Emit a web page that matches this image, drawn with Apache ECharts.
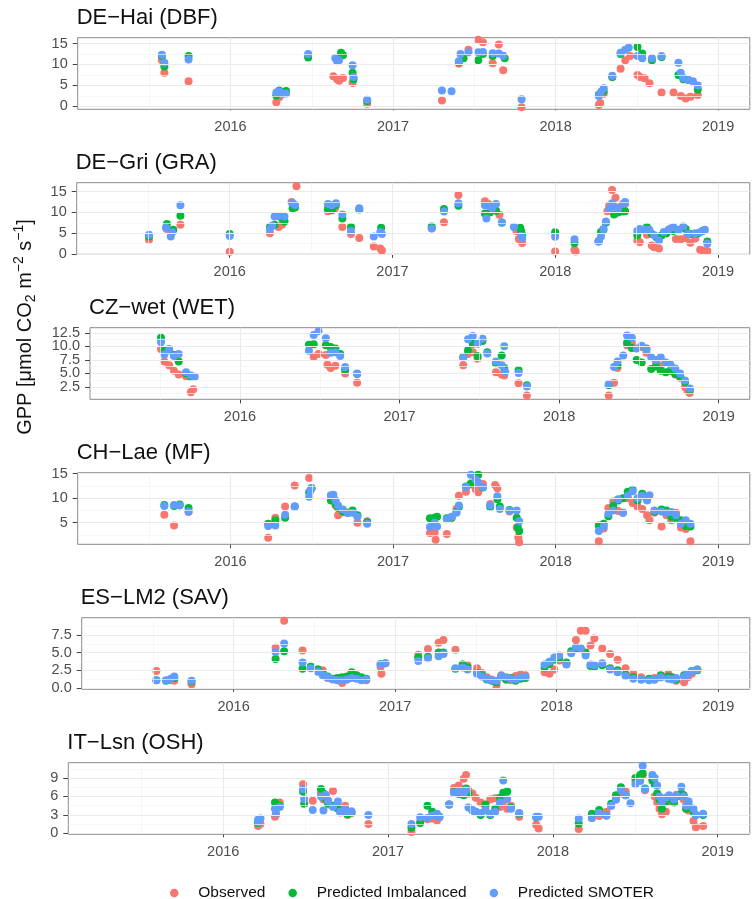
<!DOCTYPE html>
<html>
<head>
<meta charset="utf-8">
<script src="https://cdn.jsdelivr.net/npm/echarts@6/dist/echarts.min.js"></script>
<style>
  html, body { margin: 0; padding: 0; background: #fff; }
  #chart { width: 754px; height: 899px; }
</style>
</head>
<body>
<div id="chart"></div>
<script>
// legend / series
const seriesNames = ['Observed', 'Predicted Imbalanced', 'Predicted SMOTER'];
const seriesColors = ['#F8766D', '#00BA38', '#619CFF'];

// panel titles
const siteTitles = ['DE−Hai (DBF)', 'DE−Gri (GRA)', 'CZ−wet (WET)', 'CH−Lae (MF)', 'ES−LM2 (SAV)', 'IT−Lsn (OSH)'];

// tick labels
const yearTicks = [2016, 2017, 2018, 2019];
const haiTicks = [0, 5, 10, 15];
const griTicks = [0, 5, 10, 15];
const wetTicks = [2.5, 5, 7.5, 10, 12.5];
const laeTicks = [5, 10, 15];
const lm2Ticks = [0, 2.5, 5, 7.5];
const lsnTicks = [0, 3, 6, 9];

// data: [decimal year, GPP]
const haiObs = [
  [2015.578, 11.0], [2015.593, 8.0], [2015.742, 6.0],
  [2016.282, 1.0], [2016.300, 2.2], [2016.321, 3.0], [2016.342, 3.4],
  [2016.478, 12.2],
  [2016.633, 7.2], [2016.656, 6.5], [2016.668, 6.1], [2016.692, 6.8], [2016.751, 5.6],
  [2016.841, 0.6],
  [2017.301, 1.4],
  [2017.405, 10.2], [2017.464, 13.5], [2017.524, 15.9], [2017.553, 15.3], [2017.613, 10.3], [2017.651, 14.8], [2017.678, 8.6],
  [2017.791, -0.2],
  [2018.266, 0.3], [2018.275, 0.8], [2018.296, 3.0], [2018.349, 7.0], [2018.400, 9.0], [2018.429, 11.0], [2018.459, 12.0],
  [2018.504, 7.5], [2018.519, 7.0], [2018.548, 6.7], [2018.578, 5.5], [2018.652, 3.3], [2018.726, 3.3],
  [2018.771, 2.5], [2018.801, 1.9], [2018.830, 2.3], [2018.875, 2.7]
];
const haiImb = [
  [2015.578, 12.0], [2015.593, 9.5], [2015.742, 12.0],
  [2016.282, 2.6], [2016.300, 3.8], [2016.321, 3.4], [2016.342, 3.7],
  [2016.478, 11.7],
  [2016.656, 11.5], [2016.680, 12.8], [2016.692, 12.2], [2016.751, 8.0], [2016.757, 6.5],
  [2016.841, 1.3],
  [2017.405, 10.6], [2017.434, 11.5], [2017.524, 11.0], [2017.553, 12.5], [2017.613, 12.0], [2017.687, 11.5],
  [2018.266, 2.8], [2018.296, 3.6], [2018.349, 7.0], [2018.400, 12.5], [2018.504, 14.2], [2018.533, 12.6],
  [2018.593, 11.0], [2018.652, 11.8], [2018.756, 7.5], [2018.786, 6.5], [2018.816, 6.3], [2018.875, 4.0]
];
const haiSmo = [
  [2015.578, 12.3], [2015.593, 10.4], [2015.742, 11.2],
  [2016.282, 3.3], [2016.300, 3.6], [2016.321, 3.0], [2016.342, 3.1],
  [2016.478, 12.5],
  [2016.645, 11.5], [2016.656, 10.8], [2016.668, 11.0], [2016.751, 9.8], [2016.757, 7.0],
  [2016.841, 1.6],
  [2017.301, 3.8], [2017.360, 3.6],
  [2017.405, 10.8], [2017.415, 12.5], [2017.464, 12.9], [2017.524, 12.9], [2017.553, 13.0], [2017.613, 12.7], [2017.651, 12.6], [2017.678, 12.1],
  [2017.791, 1.7],
  [2018.266, 2.5], [2018.280, 3.5], [2018.296, 4.3], [2018.349, 7.3], [2018.400, 12.8], [2018.429, 13.5], [2018.450, 14.0],
  [2018.504, 12.0], [2018.533, 11.5], [2018.593, 11.5], [2018.652, 12.0], [2018.756, 10.4], [2018.770, 8.0],
  [2018.786, 6.8], [2018.816, 6.3], [2018.845, 6.0], [2018.875, 5.0]
];

const griObs = [
  [2015.504, 3.4], [2015.614, 6.0], [2015.697, 7.0],
  [2016.000, 0.5],
  [2016.247, 5.0], [2016.300, 6.5], [2016.321, 7.0], [2016.336, 7.9], [2016.380, 12.5], [2016.410, 16.3],
  [2016.603, 10.3], [2016.647, 11.0], [2016.692, 6.5], [2016.745, 4.8], [2016.796, 3.8], [2016.885, 1.8], [2016.925, 1.3], [2016.935, 0.8],
  [2017.241, 6.2], [2017.316, 7.6], [2017.405, 14.2],
  [2017.568, 12.7], [2017.589, 12.0], [2017.657, 9.4], [2017.761, 5.5], [2017.776, 3.6], [2017.797, 2.6],
  [2017.999, 0.6], [2018.118, 1.0], [2018.125, 0.6],
  [2018.266, 3.1], [2018.320, 10.3], [2018.331, 11.6], [2018.349, 15.4], [2018.370, 13.5], [2018.400, 11.3], [2018.429, 12.0],
  [2018.504, 3.2], [2018.519, 2.8], [2018.563, 4.6], [2018.593, 2.0], [2018.608, 1.6], [2018.637, 1.3], [2018.682, 5.0],
  [2018.712, 6.2], [2018.741, 3.6], [2018.771, 3.5], [2018.801, 3.8], [2018.830, 2.7], [2018.860, 3.7], [2018.890, 1.0],
  [2018.905, 0.8], [2018.934, 0.7]
];
const griImb = [
  [2015.504, 4.2], [2015.614, 7.2], [2015.653, 5.8], [2015.697, 9.2],
  [2016.000, 4.8],
  [2016.247, 6.5], [2016.276, 7.0], [2016.321, 8.5], [2016.336, 7.8], [2016.386, 11.0], [2016.401, 11.2],
  [2016.603, 10.8], [2016.627, 10.5], [2016.653, 11.8], [2016.692, 8.5], [2016.745, 6.5], [2016.796, 10.7], [2016.930, 6.3],
  [2017.241, 6.6], [2017.316, 10.8], [2017.405, 11.6],
  [2017.568, 9.7], [2017.598, 10.0], [2017.636, 10.4], [2017.672, 7.5], [2017.785, 6.3], [2017.791, 5.4], [2017.797, 4.5],
  [2017.999, 5.2], [2018.118, 2.6],
  [2018.266, 3.0], [2018.281, 5.3], [2018.296, 5.8], [2018.311, 7.5], [2018.361, 9.5], [2018.385, 10.0], [2018.415, 10.2], [2018.429, 10.3],
  [2018.504, 4.5], [2018.519, 5.8], [2018.563, 6.5], [2018.593, 4.8], [2018.622, 4.0], [2018.652, 4.4], [2018.682, 5.0],
  [2018.726, 5.5], [2018.756, 5.8], [2018.801, 6.0], [2018.830, 4.8], [2018.875, 4.9], [2018.905, 5.5], [2018.934, 3.0]
];
const griSmo = [
  [2015.504, 4.6], [2015.608, 6.3], [2015.638, 4.2], [2015.647, 5.2], [2015.697, 11.7],
  [2016.000, 4.3],
  [2016.247, 6.0], [2016.261, 6.8], [2016.276, 9.0], [2016.300, 9.1], [2016.336, 9.0], [2016.386, 12.2], [2016.401, 11.8],
  [2016.603, 12.0], [2016.627, 11.7], [2016.653, 12.2], [2016.692, 9.5], [2016.745, 5.5], [2016.796, 11.0], [2016.885, 4.2],
  [2016.925, 5.3], [2016.935, 4.8],
  [2017.241, 6.1], [2017.316, 10.2], [2017.405, 12.2],
  [2017.568, 11.7], [2017.577, 8.5], [2017.598, 11.4], [2017.613, 11.0], [2017.636, 12.0], [2017.672, 7.6], [2017.746, 6.5],
  [2017.791, 4.3], [2017.797, 3.8],
  [2017.999, 4.1], [2018.118, 3.5],
  [2018.266, 3.0], [2018.281, 4.2], [2018.296, 6.0], [2018.311, 7.8], [2018.331, 10.8], [2018.349, 12.2], [2018.361, 11.5],
  [2018.385, 10.8], [2018.415, 12.0], [2018.429, 12.5],
  [2018.504, 5.5], [2018.519, 6.0], [2018.548, 5.9], [2018.578, 5.8], [2018.608, 4.5], [2018.637, 3.2], [2018.667, 5.3],
  [2018.697, 5.9], [2018.726, 6.4], [2018.756, 5.7], [2018.786, 6.6], [2018.816, 4.8], [2018.860, 5.0], [2018.890, 5.2],
  [2018.919, 5.8], [2018.934, 2.5]
];

const wetObs = [
  [2015.505, 9.5], [2015.526, 7.2], [2015.556, 6.5], [2015.586, 5.5], [2015.616, 4.8], [2015.662, 4.5], [2015.692, 1.5], [2015.707, 2.1],
  [2016.462, 8.1], [2016.492, 8.6], [2016.538, 8.4], [2016.548, 6.6], [2016.568, 6.0], [2016.598, 6.4], [2016.659, 5.0], [2016.734, 3.3],
  [2017.399, 6.5], [2017.429, 8.6], [2017.459, 8.9], [2017.489, 7.7], [2017.604, 5.2], [2017.640, 4.8], [2017.656, 4.6],
  [2017.746, 3.2], [2017.798, 0.9],
  [2018.311, 0.9], [2018.344, 3.3], [2018.366, 6.0], [2018.426, 10.2], [2018.456, 10.6], [2018.517, 9.9], [2018.547, 8.8],
  [2018.607, 7.0], [2018.637, 6.4], [2018.698, 5.5], [2018.728, 4.8], [2018.758, 4.2], [2018.789, 2.5], [2018.805, 1.8], [2018.819, 1.4]
];
const wetImb = [
  [2015.505, 11.6], [2015.526, 9.2], [2015.556, 9.3], [2015.586, 8.4], [2015.616, 7.2], [2015.662, 5.0], [2015.692, 4.4],
  [2016.432, 10.3], [2016.462, 10.4], [2016.538, 10.2], [2016.568, 9.9], [2016.598, 9.6], [2016.628, 8.6], [2016.659, 5.7], [2016.734, 4.9],
  [2017.399, 8.0], [2017.429, 9.3], [2017.459, 10.5], [2017.489, 8.2], [2017.520, 11.0], [2017.550, 8.9], [2017.604, 6.9],
  [2017.640, 8.3], [2017.656, 6.0], [2017.746, 5.6], [2017.798, 2.8],
  [2018.311, 2.8], [2018.366, 6.5], [2018.426, 10.7], [2018.456, 9.7], [2018.486, 7.5], [2018.517, 7.0], [2018.547, 9.6],
  [2018.577, 5.8], [2018.607, 6.3], [2018.637, 5.5], [2018.668, 5.2], [2018.698, 5.5], [2018.728, 4.9], [2018.758, 4.5],
  [2018.789, 3.4], [2018.819, 2.0]
];
const wetSmo = [
  [2015.505, 10.8], [2015.526, 8.5], [2015.556, 9.5], [2015.586, 8.2], [2015.616, 8.6], [2015.662, 5.2], [2015.692, 4.6], [2015.716, 4.4],
  [2016.432, 9.2], [2016.462, 12.1], [2016.492, 12.8], [2016.538, 11.5], [2016.568, 8.8], [2016.598, 8.9], [2016.628, 8.2],
  [2016.659, 6.2], [2016.734, 5.0],
  [2017.399, 7.9], [2017.429, 11.3], [2017.459, 11.9], [2017.489, 10.5], [2017.520, 11.4], [2017.550, 8.7], [2017.604, 7.2],
  [2017.640, 6.5], [2017.656, 10.0], [2017.662, 5.3], [2017.746, 5.1], [2017.798, 2.6],
  [2018.311, 3.0], [2018.344, 6.2], [2018.366, 7.2], [2018.402, 8.3], [2018.426, 12.0], [2018.456, 11.6], [2018.486, 9.6],
  [2018.517, 10.1], [2018.547, 9.4], [2018.577, 8.0], [2018.607, 7.5], [2018.637, 8.0], [2018.668, 7.0], [2018.698, 6.6],
  [2018.728, 5.9], [2018.758, 5.0], [2018.789, 3.7], [2018.819, 2.2]
];

const laeObs = [
  [2015.593, 6.6], [2015.653, 4.4], [2015.742, 7.2],
  [2016.232, 1.9], [2016.276, 6.0], [2016.336, 8.3], [2016.395, 12.6], [2016.484, 14.1],
  [2016.618, 10.5], [2016.633, 9.9], [2016.647, 8.5], [2016.662, 6.5], [2016.692, 7.1], [2016.722, 7.0], [2016.781, 5.0], [2016.841, 5.3],
  [2017.227, 2.9], [2017.256, 3.0], [2017.262, 1.5], [2017.331, 2.7], [2017.360, 6.0], [2017.390, 7.8], [2017.405, 10.5],
  [2017.449, 11.3], [2017.479, 12.8], [2017.509, 11.8], [2017.524, 11.2], [2017.553, 12.9], [2017.598, 8.8], [2017.628, 12.7],
  [2017.642, 12.0], [2017.717, 7.3], [2017.761, 4.0], [2017.771, 2.0], [2017.776, 1.0],
  [2018.266, 1.2], [2018.296, 3.8], [2018.325, 8.0], [2018.355, 9.3], [2018.385, 7.4], [2018.415, 7.0], [2018.444, 10.0],
  [2018.474, 9.0], [2018.504, 8.3], [2018.533, 7.8], [2018.563, 6.5], [2018.578, 5.5], [2018.608, 7.0], [2018.652, 4.2],
  [2018.682, 6.5], [2018.712, 5.5], [2018.741, 7.0], [2018.771, 4.0], [2018.801, 3.7], [2018.830, 1.2]
];
const laeImb = [
  [2015.593, 8.6], [2015.653, 8.4], [2015.688, 8.7], [2015.742, 8.0],
  [2016.232, 4.8], [2016.276, 5.5], [2016.336, 6.0], [2016.395, 8.3], [2016.484, 11.2], [2016.499, 12.1],
  [2016.618, 9.5], [2016.633, 9.8], [2016.647, 8.8], [2016.662, 8.0], [2016.692, 7.3], [2016.722, 7.0], [2016.751, 7.5],
  [2016.781, 6.5], [2016.841, 5.1],
  [2017.227, 5.9], [2017.256, 6.0], [2017.271, 6.2], [2017.331, 5.9], [2017.360, 6.0], [2017.390, 7.2], [2017.405, 8.2],
  [2017.449, 12.4], [2017.479, 13.0], [2017.509, 13.5], [2017.524, 14.8], [2017.553, 12.2], [2017.598, 8.2], [2017.642, 9.8],
  [2017.657, 8.3], [2017.717, 7.6], [2017.761, 6.0], [2017.768, 4.0], [2017.776, 3.3],
  [2018.266, 4.4], [2018.296, 4.8], [2018.325, 6.3], [2018.355, 8.4], [2018.385, 9.5], [2018.415, 10.0], [2018.444, 11.3],
  [2018.474, 11.7], [2018.504, 9.5], [2018.533, 10.9], [2018.563, 9.8], [2018.608, 7.3], [2018.652, 7.7], [2018.682, 7.5],
  [2018.712, 6.2], [2018.741, 6.0], [2018.771, 5.5], [2018.801, 4.3], [2018.830, 4.2]
];
const laeSmo = [
  [2015.593, 8.4], [2015.653, 8.6], [2015.688, 8.5], [2015.742, 7.3],
  [2016.232, 4.3], [2016.276, 4.4], [2016.336, 6.6], [2016.395, 8.3], [2016.484, 10.3], [2016.491, 11.5], [2016.499, 12.0],
  [2016.618, 10.6], [2016.633, 10.7], [2016.647, 9.5], [2016.662, 8.5], [2016.692, 7.7], [2016.722, 7.0], [2016.751, 7.0],
  [2016.781, 6.2], [2016.841, 4.8],
  [2017.227, 4.1], [2017.256, 5.0], [2017.271, 4.2], [2017.331, 5.7], [2017.360, 6.2], [2017.390, 7.0], [2017.405, 8.5],
  [2017.449, 12.3], [2017.479, 14.8], [2017.509, 13.8], [2017.524, 13.2], [2017.553, 12.3], [2017.598, 8.5], [2017.642, 10.4],
  [2017.657, 7.8], [2017.717, 7.5], [2017.761, 7.5], [2017.776, 5.3],
  [2018.266, 3.3], [2018.296, 4.2], [2018.325, 6.8], [2018.355, 7.5], [2018.385, 9.8], [2018.415, 7.0], [2018.444, 10.5],
  [2018.474, 11.4], [2018.504, 10.0], [2018.533, 10.5], [2018.563, 9.5], [2018.578, 10.6], [2018.608, 7.5], [2018.652, 7.3],
  [2018.682, 7.0], [2018.712, 7.2], [2018.741, 6.5], [2018.771, 4.8], [2018.801, 5.5], [2018.830, 4.8]
];

const lm2Obs = [
  [2015.522, 2.4], [2015.612, 1.1], [2015.633, 1.0], [2015.740, 0.5],
  [2016.260, 5.7], [2016.313, 9.5], [2016.427, 5.3],
  [2016.478, 3.0], [2016.522, 2.6], [2016.552, 2.5], [2016.582, 1.4], [2016.642, 1.3], [2016.672, 0.7], [2016.701, 1.2],
  [2016.731, 2.0], [2016.761, 1.4], [2016.791, 1.3], [2016.821, 1.1],
  [2016.910, 3.0], [2016.915, 2.0], [2016.940, 3.5],
  [2017.143, 4.7], [2017.203, 5.5], [2017.269, 6.4], [2017.299, 6.8], [2017.373, 5.4], [2017.418, 3.3], [2017.448, 3.2],
  [2017.507, 2.8], [2017.537, 2.1], [2017.567, 1.5], [2017.597, 1.2], [2017.627, 0.3], [2017.657, 1.8], [2017.687, 1.2],
  [2017.716, 1.1], [2017.746, 1.7], [2017.776, 1.9], [2017.806, 1.8],
  [2017.925, 2.2], [2017.955, 2.0], [2017.985, 2.6], [2018.015, 3.9], [2018.060, 3.4], [2018.090, 5.0], [2018.119, 6.8],
  [2018.149, 8.1], [2018.179, 8.1], [2018.209, 6.0], [2018.233, 7.0], [2018.282, 5.6], [2018.330, 4.8], [2018.377, 4.0],
  [2018.426, 2.8], [2018.474, 2.0], [2018.523, 1.5], [2018.571, 1.2], [2018.605, 1.4], [2018.644, 1.5], [2018.691, 2.0],
  [2018.715, 1.3], [2018.739, 1.0], [2018.788, 0.8], [2018.812, 1.5], [2018.836, 2.0], [2018.870, 2.6]
];
const lm2Imb = [
  [2015.522, 1.1], [2015.582, 1.0], [2015.633, 1.4], [2015.740, 0.9],
  [2016.260, 4.1], [2016.313, 5.2], [2016.427, 2.7],
  [2016.478, 3.0], [2016.522, 2.6], [2016.552, 2.0], [2016.582, 1.6], [2016.612, 1.3], [2016.642, 1.4], [2016.672, 1.5],
  [2016.701, 1.6], [2016.731, 2.2], [2016.761, 1.8], [2016.791, 1.5], [2016.821, 1.3],
  [2016.910, 3.4],
  [2017.143, 4.3], [2017.203, 4.4], [2017.269, 5.0], [2017.299, 5.0], [2017.373, 2.7], [2017.418, 3.3], [2017.448, 2.9],
  [2017.507, 2.1], [2017.537, 1.8], [2017.567, 1.2], [2017.597, 1.0], [2017.627, 0.8], [2017.657, 1.6], [2017.687, 1.2],
  [2017.716, 1.4], [2017.746, 1.0], [2017.776, 1.3], [2017.806, 1.4],
  [2017.925, 2.9], [2017.955, 3.4], [2017.985, 4.0], [2018.015, 4.3], [2018.060, 3.6], [2018.090, 5.2], [2018.119, 5.5],
  [2018.149, 5.6], [2018.179, 5.0], [2018.209, 3.1], [2018.233, 3.0], [2018.282, 3.2], [2018.330, 2.8], [2018.377, 2.5],
  [2018.426, 1.9], [2018.474, 1.5], [2018.523, 1.2], [2018.571, 1.3], [2018.605, 1.2], [2018.644, 1.8], [2018.691, 1.6],
  [2018.715, 1.5], [2018.739, 1.2], [2018.788, 1.8], [2018.812, 2.0], [2018.836, 2.4], [2018.870, 2.5]
];
const lm2Smo = [
  [2015.522, 1.1], [2015.582, 1.1], [2015.612, 1.3], [2015.633, 1.6], [2015.740, 1.0],
  [2016.260, 5.1], [2016.313, 6.3], [2016.427, 3.6],
  [2016.478, 2.8], [2016.522, 2.3], [2016.552, 1.8], [2016.582, 1.5], [2016.612, 1.2], [2016.642, 1.1], [2016.672, 1.1],
  [2016.701, 1.2], [2016.731, 1.4], [2016.761, 1.3], [2016.791, 1.1], [2016.821, 1.2],
  [2016.910, 3.3], [2016.940, 3.5],
  [2017.143, 3.8], [2017.203, 4.2], [2017.269, 4.5], [2017.299, 4.8], [2017.373, 2.8], [2017.418, 2.9], [2017.448, 2.6],
  [2017.507, 2.0], [2017.537, 1.6], [2017.567, 1.3], [2017.597, 1.1], [2017.627, 1.0], [2017.657, 1.7], [2017.687, 1.5],
  [2017.716, 1.3], [2017.746, 1.2], [2017.776, 1.5], [2017.806, 1.6],
  [2017.925, 3.3], [2017.955, 3.7], [2017.985, 4.3], [2018.015, 4.6], [2018.060, 3.3], [2018.090, 4.9], [2018.119, 5.8],
  [2018.149, 5.6], [2018.179, 4.6], [2018.209, 3.3], [2018.233, 3.2], [2018.282, 3.5], [2018.330, 2.6], [2018.377, 2.2],
  [2018.426, 1.7], [2018.474, 1.3], [2018.523, 1.2], [2018.571, 1.1], [2018.605, 1.2], [2018.644, 1.5], [2018.691, 1.3],
  [2018.715, 1.2], [2018.739, 1.4], [2018.788, 1.6], [2018.812, 1.9], [2018.836, 2.4], [2018.870, 2.6]
];

const lsnObs = [
  [2016.211, 1.2], [2016.226, 1.5], [2016.314, 2.7], [2016.320, 3.0], [2016.343, 5.0],
  [2016.484, 8.0], [2016.543, 5.3], [2016.593, 6.5], [2016.608, 5.5], [2016.622, 6.0], [2016.637, 4.7], [2016.666, 6.9],
  [2016.696, 4.4], [2016.710, 3.4], [2016.740, 4.5], [2016.754, 3.0], [2016.778, 3.3],
  [2016.881, 1.5],
  [2017.142, 0.2], [2017.195, 1.9], [2017.239, 2.3], [2017.268, 2.4], [2017.297, 2.1],
  [2017.371, 4.7], [2017.400, 7.4], [2017.429, 7.8], [2017.459, 8.9], [2017.473, 9.5], [2017.488, 7.0], [2017.512, 6.5],
  [2017.532, 5.8], [2017.562, 5.0], [2017.591, 4.3], [2017.620, 5.5], [2017.650, 5.7], [2017.679, 4.3], [2017.699, 5.2],
  [2017.723, 4.0], [2017.746, 4.5], [2017.796, 2.7],
  [2017.899, 1.4], [2017.914, 0.8], [2018.157, 0.7],
  [2018.237, 2.5], [2018.281, 2.8], [2018.325, 3.5], [2018.354, 4.5], [2018.383, 5.5], [2018.413, 6.5], [2018.442, 6.8],
  [2018.501, 8.5], [2018.530, 9.0], [2018.545, 9.4], [2018.559, 7.0], [2018.604, 8.9], [2018.618, 6.0], [2018.633, 5.0],
  [2018.647, 4.0], [2018.662, 3.1], [2018.686, 3.5], [2018.706, 5.2], [2018.736, 5.5], [2018.750, 6.3], [2018.780, 6.0],
  [2018.794, 5.5], [2018.809, 4.0], [2018.824, 3.7], [2018.853, 2.0], [2018.868, 1.0], [2018.912, 1.2]
];
const lsnImb = [
  [2016.211, 1.7], [2016.314, 5.0], [2016.343, 4.5],
  [2016.484, 6.8], [2016.491, 4.8], [2016.593, 7.2], [2016.608, 6.5], [2016.622, 5.6], [2016.637, 4.9], [2016.666, 4.5],
  [2016.696, 4.0], [2016.740, 3.8], [2016.754, 3.1], [2016.778, 3.4],
  [2017.142, 0.9], [2017.195, 1.7], [2017.239, 4.5], [2017.268, 3.5], [2017.297, 3.0], [2017.312, 2.7],
  [2017.371, 4.7], [2017.400, 6.7], [2017.429, 6.4], [2017.459, 6.2], [2017.473, 7.3], [2017.488, 6.5], [2017.512, 3.7],
  [2017.532, 3.5], [2017.562, 3.0], [2017.591, 4.7], [2017.620, 3.0], [2017.650, 4.0], [2017.679, 5.8], [2017.699, 6.6],
  [2017.723, 6.8], [2017.746, 4.2], [2017.796, 3.2],
  [2017.899, 2.6], [2018.157, 1.6],
  [2018.237, 3.2], [2018.281, 3.8], [2018.325, 2.9], [2018.354, 4.8], [2018.383, 6.2], [2018.413, 7.5], [2018.442, 6.2],
  [2018.501, 9.0], [2018.530, 9.5], [2018.545, 9.8], [2018.559, 7.3], [2018.604, 8.6], [2018.618, 8.0], [2018.633, 6.5],
  [2018.647, 5.5], [2018.662, 4.0], [2018.686, 5.2], [2018.706, 5.9], [2018.736, 5.0], [2018.750, 6.0], [2018.780, 6.5],
  [2018.794, 6.2], [2018.809, 4.0], [2018.824, 4.5], [2018.853, 3.5], [2018.868, 3.0], [2018.912, 3.0]
];
const lsnSmo = [
  [2016.211, 2.2], [2016.215, 1.8], [2016.226, 2.4], [2016.314, 4.0], [2016.320, 3.3], [2016.343, 4.3],
  [2016.484, 7.2], [2016.491, 5.6], [2016.543, 3.8], [2016.593, 6.0], [2016.608, 3.7], [2016.622, 6.3], [2016.637, 5.3],
  [2016.666, 4.3], [2016.696, 5.2], [2016.710, 3.5], [2016.740, 3.9], [2016.754, 3.5], [2016.778, 3.6],
  [2016.881, 3.0],
  [2017.142, 1.5], [2017.195, 2.6], [2017.239, 2.5], [2017.268, 2.9], [2017.297, 3.2], [2017.312, 2.6],
  [2017.371, 4.7], [2017.400, 6.6], [2017.429, 6.8], [2017.459, 6.5], [2017.473, 7.0], [2017.488, 4.2], [2017.512, 3.8],
  [2017.532, 3.5], [2017.562, 3.3], [2017.591, 3.8], [2017.620, 3.2], [2017.650, 3.5], [2017.679, 5.0], [2017.699, 8.6],
  [2017.723, 5.6], [2017.746, 4.0], [2017.796, 3.3],
  [2017.899, 2.7], [2017.914, 2.7], [2018.157, 2.4],
  [2018.237, 2.5], [2018.281, 3.3], [2018.325, 2.9], [2018.354, 4.5], [2018.383, 5.5], [2018.413, 7.0], [2018.442, 6.2],
  [2018.471, 4.9], [2018.501, 8.0], [2018.530, 8.5], [2018.545, 11.0], [2018.559, 7.2], [2018.604, 9.5], [2018.618, 9.0],
  [2018.633, 7.8], [2018.647, 6.0], [2018.662, 5.2], [2018.686, 5.8], [2018.706, 6.2], [2018.736, 5.5], [2018.750, 6.1],
  [2018.780, 7.6], [2018.794, 6.0], [2018.809, 4.5], [2018.824, 5.2], [2018.853, 4.0], [2018.868, 3.0], [2018.912, 3.2]
];

// layout
const FONT = "'Liberation Sans', Arial, Helvetica, sans-serif";
const xMin = 2015.06;
const xMax = 2019.195;
const panelTop = 37.7;
const panelStep = 145;
const panelHeight = 71.6;
const panelRight = 4.2;

const panels = [
  { left: 77.7, yMin: -0.7, yMax: 16.4, ticks: haiTicks, digits: 0, data: [haiObs, haiImb, haiSmo] },
  { left: 76.7, yMin: -0.1, yMax: 17.15, ticks: griTicks, digits: 0, data: [griObs, griImb, griSmo] },
  { left: 90.0, yMin: 0.22, yMax: 13.45, ticks: wetTicks, digits: 1, data: [wetObs, wetImb, wetSmo] },
  { left: 77.7, yMin: 0.58, yMax: 15.2, ticks: laeTicks, digits: 0, data: [laeObs, laeImb, laeSmo] },
  { left: 81.7, yMin: -0.2, yMax: 9.95, ticks: lm2Ticks, digits: 1, data: [lm2Obs, lm2Imb, lm2Smo] },
  { left: 68.3, yMin: -0.16, yMax: 11.5, ticks: lsnTicks, digits: 0, data: [lsnObs, lsnImb, lsnSmo] }
];

// ggplot style minor breaks: halfway between majors
function minorBreaks(ticks, lo, hi) {
  const step = ticks[1] - ticks[0];
  const out = [];
  for (let i = -1; i < ticks.length; i++) {
    const v = (i < 0 ? ticks[0] - step : ticks[i]) + step / 2;
    if (v > lo && v < hi) out.push(v);
  }
  return out;
}

const chart = echarts.init(document.getElementById('chart'));

const grid = [], xAxis = [], yAxis = [], title = [], series = [];
const majorLine = { color: '#EBEBEB', width: 1.1, type: 'solid' };
const minorLine = { color: '#F4F4F4', width: 0.7, type: 'solid' };

function yAxisFor(p, i, values) {
  return {
    gridIndex: i, type: 'value', position: 'left', offset: 0, min: p.yMin, max: p.yMax,
    axisLine: { show: false },
    axisTick: { show: true, customValues: values, length: 5, lineStyle: { color: '#444', width: 1 } },
    axisLabel: {
      customValues: values, margin: 10, color: '#4D4D4D', fontSize: 14.5, fontFamily: FONT,
      showMinLabel: true, showMaxLabel: true, hideOverlap: false,
      formatter: v => v.toFixed(p.digits)
    },
    splitLine: { show: false }
  };
}

panels.forEach((p, i) => {
  const top = panelTop + i * panelStep;
  grid.push({
    left: p.left, right: panelRight, top: top, height: panelHeight,
    show: true, backgroundColor: '#fff', borderColor: '#8a8a8a', borderWidth: 1,
    containLabel: false, outerBoundsMode: 'none'
  });
  title.push({
    text: siteTitles[i], left: p.left - 1, top: top - 30.5, padding: 0,
    textStyle: { fontSize: 22, fontWeight: 'normal', color: '#111', fontFamily: FONT }
  });
  xAxis.push({
    gridIndex: i, type: 'value', position: 'bottom', min: xMin, max: xMax,
    axisLine: { show: false },
    axisTick: { show: true, customValues: yearTicks, length: 4, lineStyle: { color: '#444', width: 1 } },
    axisLabel: {
      customValues: yearTicks, margin: 10, color: '#4D4D4D', fontSize: 14.5, fontFamily: FONT,
      showMinLabel: true, showMaxLabel: true, hideOverlap: false,
      formatter: v => String(Math.round(v))
    },
    splitLine: { show: false }
  });
  // labels split over two stacked left axes so tightly spaced ticks are never auto-hidden
  const yIndex = yAxis.length;
  yAxis.push(yAxisFor(p, i, p.ticks.filter((v, j) => j % 2 === 0)));
  yAxis.push(yAxisFor(p, i, p.ticks.filter((v, j) => j % 2 === 1)));

  // background grid lines
  const xMinor = minorBreaks(yearTicks, xMin, xMax);
  const yMinor = minorBreaks(p.ticks, p.yMin, p.yMax);
  const lines = []
    .concat(xMinor.map(v => ({ xAxis: v, lineStyle: minorLine })))
    .concat(yMinor.map(v => ({ yAxis: v, lineStyle: minorLine })))
    .concat(yearTicks.map(v => ({ xAxis: v, lineStyle: majorLine })))
    .concat(p.ticks.map(v => ({ yAxis: v, lineStyle: majorLine })));
  series.push({
    type: 'line', xAxisIndex: i, yAxisIndex: yIndex, data: [], silent: true, z: 1,
    markLine: {
      silent: true, symbol: ['none', 'none'], animation: false,
      label: { show: false }, emphasis: { disabled: true },
      data: lines
    }
  });

  p.data.forEach((d, k) => {
    series.push({
      type: 'scatter', name: seriesNames[k], xAxisIndex: i, yAxisIndex: yIndex,
      data: d, symbolSize: 8, silent: true, z: 2 + k,
      itemStyle: { color: seriesColors[k], opacity: 1 }
    });
  });
});

const option = {
  animation: false,
  backgroundColor: '#fff',
  title: title,
  grid: grid,
  xAxis: xAxis,
  yAxis: yAxis,
  legend: {
    data: seriesNames, left: 170, top: 885, padding: 0,
    icon: 'circle', itemWidth: 38, itemHeight: 8.5, itemGap: 23,
    selectedMode: false,
    textStyle: { fontSize: 15.5, color: '#111', fontFamily: FONT }
  },
  graphic: [{
    type: 'text', x: 25, y: 327, rotation: Math.PI / 2,
    style: {
      text: '{n|GPP [μmol CO}{sub|2}{n| m}{sup|−2}{n| s}{sup|−1}{n|]}',
      align: 'center', verticalAlign: 'middle',
      fill: '#111', fontSize: 20, fontFamily: FONT,
      rich: {
        n: { fontSize: 20, fontFamily: FONT, fill: '#111', lineHeight: 26 },
        sub: { fontSize: 14, fontFamily: FONT, fill: '#111', lineHeight: 14, verticalAlign: 'bottom' },
        sup: { fontSize: 14, fontFamily: FONT, fill: '#111', lineHeight: 14, verticalAlign: 'top' }
      }
    }
  }],
  series: series
};

chart.setOption(option);
</script>
</body>
</html>
